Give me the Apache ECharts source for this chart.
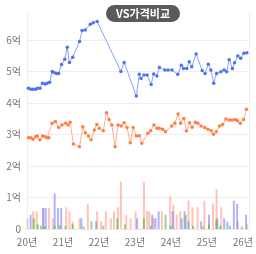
<!DOCTYPE html>
<html><head><meta charset="utf-8">
<script src="https://cdn.jsdelivr.net/npm/echarts@6/dist/echarts.min.js"></script>
<style>html,body{margin:0;padding:0;background:#fff}#c{width:256px;height:254px}</style>
</head><body><div id="c"></div>
<script>
const blueX=[2020.04,2020.11,2020.17,2020.24,2020.29,2020.36,2020.43,2020.50,2020.56,2020.63,2020.70,2020.75,2020.82,2020.88,2020.96,2021.05,2021.12,2021.18,2021.27,2021.46,2021.53,2021.62,2021.76,2021.84,2021.95,2022.61,2022.70,2023.04,2023.12,2023.17,2023.25,2023.34,2023.45,2023.52,2023.61,2023.68,2023.83,2023.92,2024.03,2024.19,2024.29,2024.35,2024.44,2024.51,2024.58,2024.70,2024.87,2024.95,2025.04,2025.11,2025.19,2025.27,2025.39,2025.48,2025.55,2025.62,2025.71,2025.77,2025.86,2025.94,2026.03,2026.11];
const blueV=[4.47,4.44,4.44,4.44,4.47,4.47,4.63,4.60,4.63,4.66,5.00,4.97,4.94,4.94,5.22,5.39,5.77,5.29,5.45,5.95,6.30,6.32,6.50,6.55,6.59,5.00,5.29,4.22,4.91,4.78,4.89,4.89,4.59,4.92,4.86,5.13,5.05,5.05,5.05,4.91,5.20,5.10,5.10,5.31,5.15,5.56,5.03,4.94,5.23,5.05,4.63,4.94,4.99,5.05,4.99,5.37,5.10,5.28,5.49,5.42,5.58,5.60];
const orangeX=[2020.04,2020.11,2020.17,2020.24,2020.29,2020.36,2020.43,2020.50,2020.56,2020.61,2020.70,2020.79,2020.88,2020.97,2021.07,2021.14,2021.20,2021.29,2021.46,2021.55,2021.62,2021.71,2021.78,2021.87,2021.94,2022.01,2022.12,2022.21,2022.28,2022.36,2022.45,2022.53,2022.62,2022.70,2022.78,2022.87,2022.95,2023.04,2023.12,2023.19,2023.36,2023.44,2023.53,2023.61,2023.68,2023.77,2023.85,2024.02,2024.11,2024.20,2024.27,2024.36,2024.43,2024.52,2024.59,2024.68,2024.75,2024.84,2024.94,2025.03,2025.12,2025.18,2025.26,2025.35,2025.44,2025.53,2025.62,2025.70,2025.79,2025.85,2025.93,2026.02,2026.10];
const orangeV=[2.90,2.90,2.85,2.93,2.95,2.83,2.95,2.93,2.90,2.90,3.36,3.41,3.22,3.30,3.36,3.30,3.39,2.70,2.61,3.25,3.06,2.95,2.83,3.14,3.32,3.20,3.12,3.69,3.48,3.30,2.61,3.30,3.27,3.37,3.22,2.74,3.22,2.95,2.96,2.72,3.04,3.12,3.30,3.20,3.20,3.17,3.09,3.27,3.36,3.65,3.36,3.51,3.11,3.37,3.23,3.39,3.36,3.27,3.22,3.17,3.12,3.01,3.09,3.27,3.32,3.49,3.46,3.46,3.48,3.44,3.36,3.48,3.80];
const pinkX=[2020.01,2020.17,2020.27,2020.45,2020.61,2020.72,2021.09,2021.18,2021.27,2021.46,2021.69,2021.95,2022.06,2022.19,2022.33,2022.42,2022.53,2022.61,2022.76,2022.88,2023.02,2023.25,2023.34,2023.40,2023.52,2023.75,2023.98,2024.07,2024.16,2024.26,2024.49,2024.60,2024.74,2024.93,2025.17,2025.27,2025.40,2025.86,2026.11];
const pinkV=[0.34,0.56,0.56,0.67,0.67,0.34,0.69,0.56,0.24,0.34,0.80,0.56,0.24,0.56,0.34,0.56,0.69,1.50,0.45,0.34,0.56,1.50,0.56,0.56,0.34,0.56,1.04,0.77,0.45,0.56,0.90,0.69,0.69,0.90,0.80,1.26,0.69,0.24,0.15];
const blueBarX=[2020.10,2020.45,2020.52,2020.77,2020.86,2020.95,2021.51,2021.92,2023.06,2023.48,2023.57,2023.66,2024.05,2024.30,2024.38,2024.49,2024.84,2025.06,2025.29,2025.48,2025.57,2025.75,2025.84,2026.09];
const blueBarV=[0.45,0.67,0.67,1.13,0.67,0.67,0.34,0.24,0.34,0.45,0.34,0.56,0.56,0.34,0.56,0.24,0.24,0.45,0.34,0.34,0.24,0.90,0.80,0.45];
const greenX=[2020.19,2020.30,2020.39,2020.50,2020.77,2020.91,2021.07,2021.27,2021.57,2021.79,2022.12,2022.51,2022.72,2023.25,2023.44,2023.85,2023.99,2024.41,2024.62,2024.90,2025.06,2025.26,2025.37,2025.64,2025.97];
const greenV=[0.34,0.15,0.10,0.08,0.10,0.12,0.10,0.15,0.08,0.25,0.10,0.34,0.15,0.34,0.10,0.45,0.10,0.45,0.10,0.08,0.15,0.30,0.10,0.10,0.08];
const yearTicks=[2020,2021,2022,2023,2024,2025,2026];

const zip=(a,b)=>a.map((x,i)=>[x,b[i]]);
const chart=echarts.init(document.getElementById('c'),null,{renderer:'canvas'});
const barS=(name,xs,vs,color)=>({name,type:'bar',data:zip(xs,vs),barWidth:2,barGap:'-100%',itemStyle:{color},z:1,silent:true});
chart.setOption({
  animation:false,
  title:{text:'VS가격비교',left:106,top:5,backgroundColor:'#5a5a5a',borderRadius:9,padding:[3,10,3,10],
    textStyle:{color:'#fff',fontSize:11,fontWeight:'bold',fontFamily:'Noto Sans CJK KR'}},
  grid:{left:27,right:5,top:12,bottom:25},
  xAxis:{type:'value',min:2020,max:2026.17,interval:1,
    axisLine:{show:true,lineStyle:{color:'#e6e6e6'}},axisTick:{show:false},splitLine:{show:false},
    axisLabel:{color:'#777',fontSize:10,margin:8,fontFamily:'Noto Sans CJK KR',showMaxLabel:false,
      formatter:v=>yearTicks.includes(v)?String(v).slice(2)+'년':''}},
  yAxis:[{type:'value',min:0,max:6.89,interval:1,
    axisLine:{show:true,lineStyle:{color:'#eeeeee'}},axisTick:{show:false},
    splitLine:{show:true,showMaxLine:false,lineStyle:{color:'#eeeeee'}},
    axisLabel:{color:'#777',fontSize:10,margin:6,fontFamily:'Noto Sans CJK KR',showMaxLabel:false,
      formatter:v=>v===0?'0':(Number.isInteger(v)?v+'억':'')}},
    {type:'value',position:'right',min:0,max:1,axisLine:{show:true,lineStyle:{color:'#eeeeee'}},
     axisTick:{show:false},axisLabel:{show:false},splitLine:{show:false}}],
  series:[
    barS('p',pinkX,pinkV,'rgba(255,135,115,0.5)'),
    barS('b',blueBarX,blueBarV,'rgba(110,120,250,0.55)'),
    barS('g',greenX,greenV,'rgba(70,190,60,0.6)'),
    {type:'line',data:zip(blueX,blueV),symbol:'circle',symbolSize:3.5,showSymbol:true,z:3,
     lineStyle:{color:'#8aa0f7',width:1},itemStyle:{color:'#4f73f0'}},
    {type:'line',data:zip(orangeX,orangeV),symbol:'circle',symbolSize:3.5,showSymbol:true,z:3,
     lineStyle:{color:'#ffab8e',width:1},itemStyle:{color:'#ff7f45'}}
  ]
});
</script></body></html>
